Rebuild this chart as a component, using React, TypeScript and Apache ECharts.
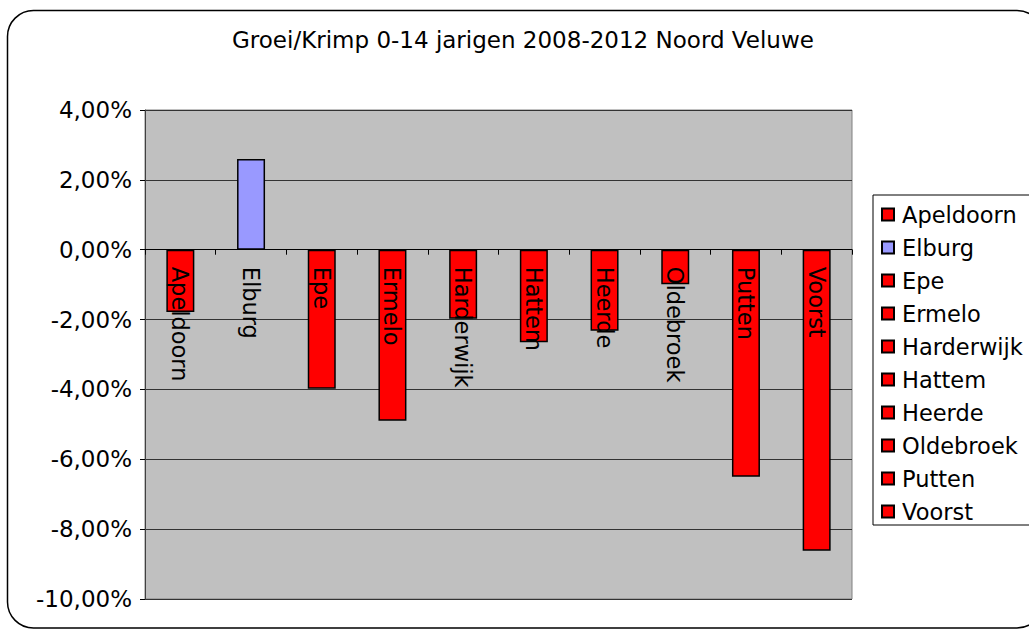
import React, { useEffect, useRef } from "react";
import * as echarts from "echarts";

const titleText = "Groei/Krimp 0-14 jarigen 2008-2012 Noord Veluwe";
const categories = [
  "Apeldoorn",
  "Elburg",
  "Epe",
  "Ermelo",
  "Harderwijk",
  "Hattem",
  "Heerde",
  "Oldebroek",
  "Putten",
  "Voorst",
];
// percent change 2008-2012
const values = [-1.78, 2.6, -3.98, -4.9, -1.98, -2.65, -2.32, -0.99, -6.5, -8.62];
const yMin = -10;
const yMax = 4;
const yStep = 2;

const RED = "#FF0000";
const LAVENDER = "#9999FF";
const FONT = "DejaVu Sans";

export default function App() {
  const ref = useRef<HTMLDivElement>(null);
  useEffect(() => {
    if (!ref.current) return;
    const chart = echarts.init(ref.current, null, { renderer: "svg" });
    const series = categories.map((name, i) => ({
      type: "bar",
      name,
      stack: "all",
      barWidth: 28,
      data: values.map((v, j) => (j === i ? v : "-")),
      itemStyle: {
        color: values[i] >= 0 ? LAVENDER : RED,
        borderColor: "#000",
        borderWidth: 1.5,
      },
    }));
    chart.setOption({
      animation: false,
      backgroundColor: "#ffffff",
      title: {
        text: titleText,
        left: 232,
        top: 28,
        padding: 0,
        textStyle: { fontFamily: FONT, fontSize: 23, fontWeight: "normal", color: "#000" },
      },
      legend: {
        orient: "vertical",
        left: 873,
        top: 195,
        padding: [8, 20, 2, 8],
        itemGap: 10,
        itemWidth: 12,
        itemHeight: 12,
        icon: "rect",
        borderColor: "#000",
        borderWidth: 1,
        backgroundColor: "#fff",
        textStyle: {
          fontFamily: FONT,
          fontSize: 22.5,
          lineHeight: 22,
          color: "#000",
          padding: [0, 0, 0, 3],
        },
        data: categories,
      },
      grid: {
        left: 145,
        top: 110,
        right: 177,
        bottom: 31,
        containLabel: false,
        outerBoundsMode: "none",
        show: true,
        backgroundColor: "#C0C0C0",
        borderColor: "#808080",
        borderWidth: 1,
      },
      xAxis: {
        type: "category",
        data: categories,
        z: 10,
        offset: 0,
        axisLine: { show: true, onZero: false, lineStyle: { color: "#000", width: 1 } },
        axisTick: { show: true, length: 5, lineStyle: { color: "#000" } },
        axisLabel: {
          rotate: -90,
          margin: 17,
          fontFamily: FONT,
          fontSize: 22.5,
          color: "#000",
        },
        splitLine: { show: false },
      },
      yAxis: {
        type: "value",
        min: yMin,
        max: yMax,
        interval: yStep,
        axisLine: { show: true, onZero: false, lineStyle: { color: "#404040", width: 1 } },
        axisTick: { show: true, length: 5, lineStyle: { color: "#000" } },
        axisLabel: {
          margin: 13,
          fontFamily: FONT,
          fontSize: 23,
          color: "#000",
          formatter: (v: number) => v.toFixed(2).replace(".", ",") + "%",
        },
        splitLine: { show: true, lineStyle: { color: "#333", width: 1 } },
      },
      graphic: [
        {
          type: "rect",
          shape: { x: 7.5, y: 10.5, width: 1035.5, height: 617.5, r: 26 },
          style: { fill: "none", stroke: "#000", lineWidth: 1.5 },
          silent: true,
          z: 100,
        },
      ],
      series,
    });
    // place the category axis on the zero line, using the value axis' own scale
    const zeroY = chart.convertToPixel({ yAxisIndex: 0 }, 0) as number;
    const bottomY = chart.convertToPixel({ yAxisIndex: 0 }, yMin) as number;
    chart.setOption({ xAxis: { offset: -(bottomY - zeroY) } });
    return () => chart.dispose();
  }, []);
  return (
    <div
      ref={ref}
      style={{ position: "absolute", left: 0, top: 0, width: 1029, height: 630, background: "#fff" }}
    />
  );
}
